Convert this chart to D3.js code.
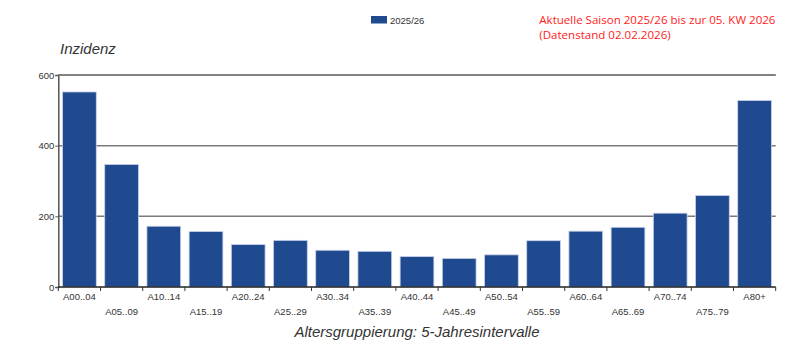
<!DOCTYPE html>
<html><head><meta charset="utf-8">
<script src="https://cdn.jsdelivr.net/npm/d3@7"></script>
<style>body{margin:0;background:#fff}svg{display:block}</style>
</head><body>
<svg id="c" width="800" height="355"></svg>
<script>
const categories = ["A00..04","A05..09","A10..14","A15..19","A20..24","A25..29","A30..34","A35..39","A40..44","A45..49","A50..54","A55..59","A60..64","A65..69","A70..74","A75..79","A80+"];
const values = [552,347,172,157,120,132,104,101,86,81,91,131,158,169,209,259,528];
const yTicks = [0,200,400,600];
const seriesName = "2025/26";
const yTitle = "Inzidenz";
const xTitle = "Altersgruppierung: 5-Jahresintervalle";
const note = ["Aktuelle Saison 2025/26 bis zur 05. KW 2026","(Datenstand 02.02.2026)"];

const svg = d3.select("#c");
const L = 58.3, R = 775.7, T = 75, B = 287;
const x = d3.scaleBand().domain(categories).range([L, R]).paddingInner(0.2).paddingOuter(0.1);
const y = d3.scaleLinear().domain([0, 600]).range([B, T]);
const barColor = "#204a8f";

// gridlines
svg.append("g").selectAll("line").data(yTicks.filter(d => d > 0)).join("line")
  .attr("x1", L).attr("x2", R).attr("y1", d => y(d)).attr("y2", d => y(d))
  .attr("stroke", "#7a7a7a").attr("stroke-width", 1.5);

// bars
svg.append("g").selectAll("rect").data(values).join("rect")
  .attr("x", (d, i) => x(categories[i]))
  .attr("width", x.bandwidth())
  .attr("y", d => y(d))
  .attr("height", d => B - y(d))
  .attr("fill", barColor)
  .attr("stroke", "#c9d2ea").attr("stroke-width", 0.8);

// y axis
const ya = svg.append("g").attr("transform", `translate(${L},0)`)
  .call(d3.axisLeft(y).tickValues(yTicks).tickSize(3).tickFormat(d3.format("d")));
ya.select(".domain").attr("stroke", "#555").attr("stroke-width", 1.5);
ya.selectAll(".tick line").attr("stroke", "#555");
ya.selectAll("text").attr("font-family", "Liberation Sans, Arial, sans-serif").attr("font-size", 9.5).attr("fill", "#333").attr("x", -4);

// x axis
const xa = svg.append("g").attr("transform", `translate(0,${B})`);
xa.append("line").attr("x1", L).attr("x2", R).attr("stroke", "#222").attr("stroke-width", 1.5);
const step = x.step();
const bounds = d3.range(categories.length + 1).map(i => L + x.paddingOuter() * step - x.paddingInner() * step / 2 + i * step);
xa.selectAll(".tk").data(d3.range(categories.length + 1)).join("line").attr("class", "tk")
  .attr("x1", i => L + i * (R - L) / categories.length).attr("x2", i => L + i * (R - L) / categories.length)
  .attr("y1", 0).attr("y2", 4).attr("stroke", "#333").attr("stroke-width", 1);
xa.selectAll("text").data(categories).join("text")
  .attr("x", d => x(d) + x.bandwidth() / 2)
  .attr("y", (d, i) => i % 2 === 0 ? 13 : 28)
  .attr("text-anchor", "middle")
  .attr("font-family", "Liberation Sans, Arial, sans-serif").attr("font-size", 9.5).attr("fill", "#333")
  .text(d => d);

// top border line
svg.append("line").attr("x1", L).attr("x2", R).attr("y1", T).attr("y2", T).attr("stroke", "#7a7a7a").attr("stroke-width", 1.5);

// titles
svg.append("text").attr("x", 60).attr("y", 54).attr("font-family", "Liberation Sans, Arial, sans-serif")
  .attr("font-style", "italic").attr("font-size", 15).attr("fill", "#333").text(yTitle);
svg.append("text").attr("x", (L + R) / 2).attr("y", 337).attr("text-anchor", "middle")
  .attr("font-family", "Liberation Sans, Arial, sans-serif")
  .attr("font-style", "italic").attr("font-size", 15).attr("fill", "#333").text(xTitle);

// legend
svg.append("rect").attr("x", 371).attr("y", 16).attr("width", 16).attr("height", 7.5).attr("fill", barColor);
svg.append("text").attr("x", 390).attr("y", 23.5).attr("font-family", "Liberation Sans, Arial, sans-serif")
  .attr("font-size", 9.5).attr("fill", "#333").text(seriesName);

// note
const noteTargets = [236.5, 131.5];
note.forEach((t, i) => {
  const el = svg.append("text").attr("x", 539.3).attr("y", 24 + i * 14.5)
    .attr("font-family", "Open Sans, sans-serif").attr("font-size", 12).attr("fill", "#ff1a1a").text(t);
  const w = el.node().getComputedTextLength();
  el.attr("font-size", 12 * noteTargets[i] / w);
});
</script>
</body></html>
